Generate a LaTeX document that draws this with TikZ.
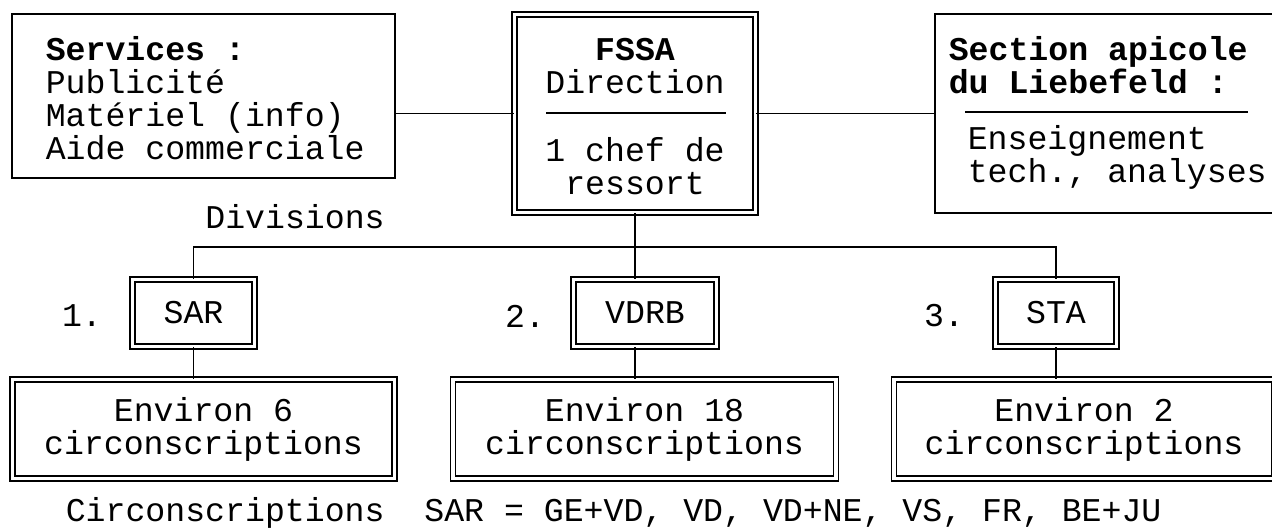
\documentclass[tikz,border=0pt]{standalone}
\usepackage{fontspec}
\setmainfont{Liberation Mono}
\begin{document}
\begin{tikzpicture}[x=0.5pt, y=-0.5pt, line width=0.8pt,
    every node/.style={font=\fontsize{16.6}{16.5}\selectfont, inner sep=0pt},
    box/.style={draw, rectangle, line width=0.9pt},
    dbox/.style={draw, rectangle, line width=0.7pt, double, double distance=1.8pt}]
  \useasboundingbox (0,0) rectangle (1272,529);
  % top row
  \node[box, minimum width=191.5pt, minimum height=82pt] (serv) at (203.5,96) {};
  \node[dbox, minimum width=120.5pt, minimum height=99pt] (fssa) at (635,113.5) {};
  \node[box, minimum width=175pt, minimum height=99.5pt] (sect) at (1110,113.5) {};
  \node[anchor=west, align=left] (servtxt) at (45,98) {\textbf{Services :}\\Publicité\\Matériel (info)\\Aide commerciale};
  \node[align=center] (fssatop) at (635,66) {\textbf{FSSA}\\Direction};
  \node[align=center] (fssabot) at (635,166) {1 chef de\\ressort};
  \draw (546,113) -- (726,113);
  \node[anchor=west, align=left] (secttop) at (948,65) {\textbf{Section apicole}\\\textbf{du Liebefeld :}};
  \draw (965,112) -- (1248,112);
  \node[anchor=west, align=left] (sectbot) at (967,157) {Enseignement\\tech., analyses};
  \draw (serv.east |- fssa.west) -- (fssa.west);
  \draw (fssa.east) -- (fssa.east -| sect.west);

  % divisions
  \node (div) at (295,217) {Divisions};
  \node[dbox, minimum width=61pt, minimum height=33.5pt] (sar) at (193.5,313) {SAR};
  \node[dbox, minimum width=71.5pt, minimum height=33.5pt] (vdrb) at (645,313) {VDRB};
  \node[dbox, minimum width=60.5pt, minimum height=33.5pt] (sta) at (1056,313) {STA};
  \node (n1) at (82,316) {1.};
  \node (n2) at (525,316) {2.};
  \node (n3) at (944,316) {3.};
  \coordinate (bus) at (0,247);
  \draw (sar.north) -- (sar.north |- bus) -- (sta.north |- bus) -- (sta.north);
  \draw (fssa.south) -- (fssa.south |- vdrb.north);

  % circonscriptions
  \node[dbox, minimum width=191pt, minimum height=49.5pt, align=center] (circa) at (203.5,429) {Environ 6\\circonscriptions};
  \node[dbox, minimum width=191.5pt, minimum height=49.5pt, align=center] (circb) at (644.5,429) {Environ 18\\circonscriptions};
  \node[dbox, minimum width=190pt, minimum height=49.5pt, align=center] (circc) at (1084,429) {Environ 2\\circonscriptions};
  \draw (sar.south) -- (sar.south |- circa.north);
  \draw (fssa.south |- vdrb.south) -- (fssa.south |- circb.north);
  \draw (sta.south) -- (sta.south |- circc.north);
  \node[anchor=west] (note) at (65,513) {Circonscriptions\ \ SAR = GE+VD, VD, VD+NE, VS, FR, BE+JU};
\end{tikzpicture}
\end{document}
